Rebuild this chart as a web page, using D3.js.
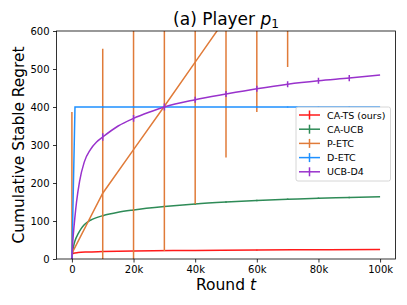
<!DOCTYPE html>
<html>
<head>
<meta charset="utf-8">
<script src="https://cdn.jsdelivr.net/npm/d3@7"></script>
<style>
  body { margin: 0; background: #fff; }
  svg text { font-family: "DejaVu Sans", sans-serif; fill: #000; }
</style>
</head>
<body>
<script>
//chart size - same as the window
var svgWidth = 407;
var svgHeight = 305;

//values, rounds on the x axis
var tsRounds  = [0, 500, 2000, 5000, 10000, 20000, 40000, 60000, 80000, 100000];
var tsRegret  = [12, 15, 17, 18.5, 19.5, 21, 22.5, 23.5, 24.5, 25];

var ucbRounds = [0, 250, 500, 1000, 2000, 3000, 4000, 6000, 8000, 10000, 15000, 20000, 30000, 40000, 50000, 60000, 70000, 80000, 90000, 100000];
var ucbRegret = [0, 20, 32, 48, 66, 80, 90, 102, 109, 114, 123, 129, 138, 145, 150, 154, 157, 160, 162, 164];

var petcRounds = [0, 10000, 20000, 30000, 40000, 50000, 60000, 70000, 80000, 90000, 100000];
var petcRegret = [15, 173, 288, 402, 518, 634, 749, 864, 980, 1095, 1210];

var detcRounds = [0, 1000, 10000, 20000, 30000, 40000, 50000, 60000, 70000, 80000, 90000, 100000];
var detcRegret = [0, 400, 400, 400, 400, 400, 400, 400, 400, 400, 400, 400];

var d4Rounds = [0, 250, 500, 1000, 1500, 2500, 4000, 6000, 8000, 10000, 15000, 20000, 25000, 30000, 40000, 50000, 60000, 70000, 80000, 90000, 100000];
var d4Regret = [0, 40, 68, 112, 150, 205, 255, 288, 308, 321, 350, 370, 386, 400, 419, 434, 448, 460, 469, 476, 484];

//error bars every 10k rounds (0 .. 90k)
var errRounds = [0, 10000, 20000, 30000, 40000, 50000, 60000, 70000, 80000, 90000];
var tsStd   = [1, 1, 1, 1, 1, 1, 1, 1, 1, 1];
var ucbStd  = [1, 2, 2, 2, 2, 2, 2, 2, 2, 2];
var petcStd = [372, 380, 380, 381, 373, 367, 362, 359, 355, 352];
var detcStd = [0, 1.5, 1.5, 1.5, 1.5, 1.5, 1.5, 1.5, 1.5, 1.5];
var d4Std   = [0, 10, 9, 9, 8, 8, 8, 8, 8, 8];

var seriesNames  = ["CA-TS (ours)", "CA-UCB", "P-ETC", "D-ETC", "UCB-D4"];
var seriesColors = ["#ff1a1a", "#2e8b57", "#e07b39", "#1e90ff", "#9932cc"];

var xTicks = [0, 20000, 40000, 60000, 80000, 100000];
var yTicks = [0, 100, 200, 300, 400, 500, 600];

//plot box (dont call it "top" - thats window.top)
var plotLeft = 56.5, plotRight = 395.5, plotTop = 31, plotBottom = 259;

var svg = d3.select("body")
            .append("svg")
            .attr("width", svgWidth)
            .attr("height", svgHeight)
            .attr("id", "the_chart");

var x = d3.scaleLinear().domain([-5000, 105000]).range([plotLeft, plotRight]);
var y = d3.scaleLinear().domain([0, 600]).range([plotBottom, plotTop]);

svg.append("clipPath")
   .attr("id", "plotClip")
   .append("rect")
   .attr("x", plotLeft)
   .attr("y", plotTop)
   .attr("width", plotRight - plotLeft)
   .attr("height", plotBottom - plotTop);

var plot = svg.append("g").attr("clip-path", "url(#plotClip)");

//pair the arrays up, one object per series
function pts(ts, vs) { return ts.map(function(t, i) { return { t: t, v: vs[i] }; }); }
function lookup(ts, vs, t) { return vs[ts.indexOf(t)]; }

//smooth = monotone curve for the sampled curves, the ETC ones are straight segments
var allSeries = [
  { line: pts(tsRounds, tsRegret), ts: tsRounds, vs: tsRegret, std: tsStd, smooth: true },
  { line: pts(ucbRounds, ucbRegret), ts: ucbRounds, vs: ucbRegret, std: ucbStd, smooth: true },
  { line: pts(petcRounds, petcRegret), ts: petcRounds, vs: petcRegret, std: petcStd, smooth: false },
  { line: pts(detcRounds, detcRegret), ts: detcRounds, vs: detcRegret, std: detcStd, smooth: false },
  { line: pts(d4Rounds, d4Regret), ts: d4Rounds, vs: d4Regret, std: d4Std, smooth: true }
];

allSeries.forEach(function(s, i) {
  var line = d3.line()
               .curve(s.smooth ? d3.curveMonotoneX : d3.curveLinear)
               .x(function(d) { return x(d.t); })
               .y(function(d) { return y(d.v); });
  var g = plot.append("g");
  g.append("path")
   .attr("d", line(s.line))
   .attr("fill", "none")
   .attr("stroke", seriesColors[i])
   .attr("stroke-width", 1.5);

  //vertical error bars, no caps
  g.selectAll("line")
   .data(errRounds)
   .enter()
   .append("line")
   .attr("x1", function(t) { return x(t); })
   .attr("x2", function(t) { return x(t); })
   .attr("y1", function(t, j) { return y(lookup(s.ts, s.vs, t) - s.std[j]); })
   .attr("y2", function(t, j) { return y(lookup(s.ts, s.vs, t) + s.std[j]); })
   .attr("stroke", seriesColors[i])
   .attr("stroke-width", 1.5);
});

//axes
var xAxis = d3.axisBottom(x)
              .tickValues(xTicks)
              .tickSizeInner(3.5)
              .tickSizeOuter(0)
              .tickPadding(3.5)
              .tickFormat(function(d) { return d === 0 ? "0" : (d / 1000) + "k"; });
var yAxis = d3.axisLeft(y)
              .tickValues(yTicks)
              .tickSizeInner(3.5)
              .tickSizeOuter(0)
              .tickPadding(3.5);

var gx = svg.append("g").attr("transform", "translate(0," + plotBottom + ")").call(xAxis);
var gy = svg.append("g").attr("transform", "translate(" + plotLeft + ",0)").call(yAxis);
[gx, gy].forEach(function(g) {
  g.select(".domain").remove();
  g.selectAll("text").style("font-size", "10px").attr("fill", "#000");
  g.selectAll("line").attr("stroke", "#000").attr("stroke-width", 0.8);
});

//frame round the plot
svg.append("rect")
   .attr("x", plotLeft)
   .attr("y", plotTop)
   .attr("width", plotRight - plotLeft)
   .attr("height", plotBottom - plotTop)
   .attr("fill", "none")
   .attr("stroke", "#000")
   .attr("stroke-width", 0.8);

//title with italic p and subscript 1
var title = svg.append("text")
               .attr("x", (plotLeft + plotRight) / 2)
               .attr("y", 25)
               .attr("text-anchor", "middle")
               .style("font-size", "17px");
title.append("tspan").text("(a) Player ");
title.append("tspan").style("font-style", "italic").text("p");
title.append("tspan").attr("dy", 3).style("font-size", "12px").text("1");

var xLabel = svg.append("text")
                .attr("x", (plotLeft + plotRight) / 2)
                .attr("y", 290)
                .attr("text-anchor", "middle")
                .style("font-size", "15.5px");
xLabel.append("tspan").text("Round ");
xLabel.append("tspan").style("font-style", "italic").text("t");

svg.append("text")
   .attr("transform", "translate(24," + (plotTop + plotBottom) / 2 + ") rotate(-90)")
   .attr("text-anchor", "middle")
   .style("font-size", "15.4px")
   .text("Cumulative Stable Regret");

//legend box, lower right
var legX = 296, legY = 107, legW = 94.5, legH = 74, rowH = 14.2;
var legend = svg.append("g");
legend.append("rect")
      .attr("x", legX)
      .attr("y", legY)
      .attr("width", legW)
      .attr("height", legH)
      .attr("rx", 2)
      .attr("fill", "#fff")
      .attr("fill-opacity", 0.8)
      .attr("stroke", "#ccc")
      .attr("stroke-width", 0.8);

var rows = legend.selectAll("g.row")
                 .data(seriesNames)
                 .enter()
                 .append("g")
                 .attr("class", "row")
                 .attr("transform", function(d, i) { return "translate(0," + (legY + 8 + i * rowH) + ")"; });
rows.append("line")
    .attr("x1", legX + 3).attr("x2", legX + 24)
    .attr("y1", 0).attr("y2", 0)
    .attr("stroke", function(d, i) { return seriesColors[i]; })
    .attr("stroke-width", 1.5);
rows.append("line")
    .attr("x1", legX + 13.5).attr("x2", legX + 13.5)
    .attr("y1", -4.5).attr("y2", 4.5)
    .attr("stroke", function(d, i) { return seriesColors[i]; })
    .attr("stroke-width", 1.5);
rows.append("text")
    .attr("x", legX + 31)
    .attr("y", 3.5)
    .style("font-size", "9.5px")
    .text(function(d) { return d; });
</script>
</body>
</html>
